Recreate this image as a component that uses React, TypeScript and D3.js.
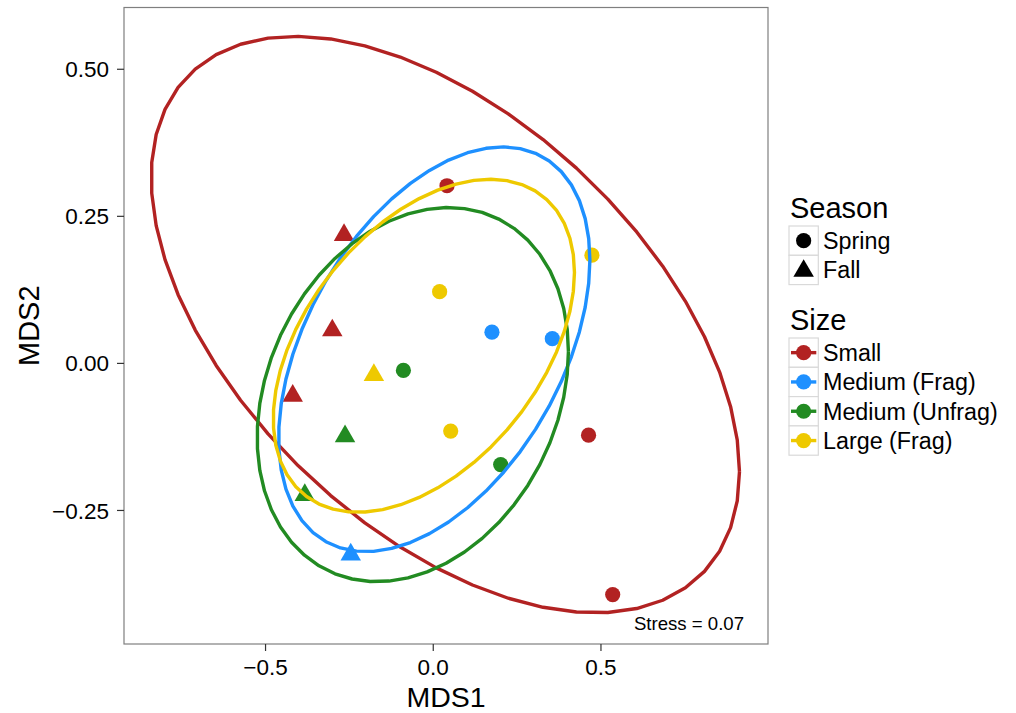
import React from "react";
import * as d3 from "d3";

// ---- data ----
const sizeGroups = ["Small", "Medium (Frag)", "Medium (Unfrag)", "Large (Frag)"];
const sizeColors = ["#B22222", "#1E90FF", "#228B22", "#EEC900"];
const seasons = ["Spring", "Fall"];

// sample points: MDS1, MDS2, size group index, season
const ptMDS1 = [0.041, 0.463, 0.535, 0.175, 0.355, -0.089, 0.201, 0.019, 0.473, 0.052,
  -0.266, -0.301, -0.419, -0.246, -0.263, -0.383, -0.177];
const ptMDS2 = [0.302, -0.122, -0.393, 0.053, 0.042, -0.012, -0.172, 0.122, 0.184, -0.115,
  0.218, 0.056, -0.055, -0.325, -0.124, -0.224, -0.020];
const ptSize = [0, 0, 0, 1, 1, 2, 2, 3, 3, 3, 0, 0, 0, 1, 2, 2, 3];
const ptSeason = ["Spring", "Spring", "Spring", "Spring", "Spring", "Spring", "Spring", "Spring", "Spring", "Spring",
  "Fall", "Fall", "Fall", "Fall", "Fall", "Fall", "Fall"];

// ellipse parameters per size group (centre, half-ranges, correlation)
const ellCx = [0.036, 0.003, -0.061, -0.028];
const ellCy = [0.066, 0.024, -0.053, 0.030];
const ellRx = [0.877, 0.464, 0.464, 0.449];
const ellRy = [0.490, 0.344, 0.318, 0.283];
const ellCorr = [-0.51, 0.44, 0.23, 0.44];

const xTicks = [-0.5, 0.0, 0.5];
const yTicks = [-0.25, 0.0, 0.25, 0.5];
const xDomain = [-0.922, 0.998];
const yDomain = [-0.477, 0.605];
const stressLabel = "Stress = 0.07";

const FONT = "'Liberation Sans', Arial, Helvetica, sans-serif";

export default function App() {
  const W = 1016, H = 713;
  const pl = 124, pr = 768, pt = 7.5, pb = 644;
  const x = d3.scaleLinear().domain(xDomain).range([pl, pr]);
  const y = d3.scaleLinear().domain(yDomain).range([pb, pt]);

  const R = 7.6;
  const triPath = (cx: number, cy: number, r: number) => {
    const xc = 1.347 * r, rr = 1.555 * r, yc = 0.778 * r;
    return `M${cx},${cy - rr}L${cx + xc},${cy + yc}L${cx - xc},${cy + yc}Z`;
  };

  const segs = 51;
  const ellLine = d3.line<[number, number]>().x((d) => x(d[0])).y((d) => y(d[1]));
  const ellipses = sizeGroups.map((_, i) => {
    const phi = Math.acos(ellCorr[i]);
    const pts: [number, number][] = d3.range(segs + 1).map((k) => {
      const t = (k / segs) * 2 * Math.PI;
      return [ellCx[i] + ellRx[i] * Math.cos(t), ellCy[i] + ellRy[i] * Math.cos(t + phi)];
    });
    return ellLine(pts) as string;
  });

  const fmtY = (v: number) => (v < 0 ? "\u2212" : "") + Math.abs(v).toFixed(2);
  const fmtX = (v: number) => (v < 0 ? "\u2212" : "") + Math.abs(v).toFixed(1);

  const legX = 789, keyW = 29.3;
  const seasonTop = 226;
  const sizeTop = 338;

  return (
    <svg width={W} height={H} style={{ position: "absolute", left: 0, top: 0, background: "#fff" }} fontFamily={FONT}>
      <rect x={0} y={0} width={W} height={H} fill="#fff" />
      {/* points */}
      {ptMDS1.map((mx, i) => {
        const cx = x(mx), cy = y(ptMDS2[i]);
        const col = sizeColors[ptSize[i]];
        return ptSeason[i] === "Spring" ? (
          <circle key={"p" + i} cx={cx} cy={cy} r={R} fill={col} />
        ) : (
          <path key={"p" + i} d={triPath(cx, cy, R)} fill={col} />
        );
      })}
      {/* ellipses */}
      {ellipses.map((d, i) => (
        <path key={"e" + i} d={d} fill="none" stroke={sizeColors[i]} strokeWidth={3.4} strokeLinejoin="round" />
      ))}
      {/* panel border */}
      <rect x={pl} y={pt} width={pr - pl} height={pb - pt} fill="none" stroke="#7F7F7F" strokeWidth={1.2} />
      {/* stress */}
      <text x={744} y={630} fontSize={18.6} textAnchor="end" fill="#000">{stressLabel}</text>
      {/* y axis */}
      {yTicks.map((v) => (
        <g key={"y" + v}>
          <line x1={pl - 7} x2={pl} y1={y(v)} y2={y(v)} stroke="#333" strokeWidth={1.2} />
          <text x={pl - 15} y={y(v)} dy="0.36em" fontSize={22.5} textAnchor="end" fill="#000">{fmtY(v)}</text>
        </g>
      ))}
      {/* x axis */}
      {xTicks.map((v) => (
        <g key={"x" + v}>
          <line x1={x(v)} x2={x(v)} y1={pb} y2={pb + 7} stroke="#333" strokeWidth={1.2} />
          <text x={x(v)} y={675} fontSize={22.5} textAnchor="middle" fill="#000">{fmtX(v)}</text>
        </g>
      ))}
      <text x={(pl + pr) / 2} y={707} fontSize={28.5} textAnchor="middle" fill="#000">MDS1</text>
      <text transform={`translate(39,${(pt + pb) / 2}) rotate(-90)`} fontSize={29} textAnchor="middle" fill="#000">MDS2</text>

      {/* legend: Season */}
      <text x={790} y={218} fontSize={29} fill="#000">Season</text>
      {seasons.map((s, i) => {
        const ky = seasonTop + i * keyW;
        const cx = legX + keyW / 2, cy = ky + keyW / 2;
        return (
          <g key={"s" + s}>
            <rect x={legX} y={ky} width={keyW} height={keyW} fill="#fff" stroke="#D9D9D9" strokeWidth={1.2} />
            {s === "Spring" ? <circle cx={cx} cy={cy} r={R} fill="#000" /> : <path d={triPath(cx, cy + 1, R)} fill="#000" />}
            <text x={823} y={cy} dy="0.36em" fontSize={23.3} fill="#000">{s}</text>
          </g>
        );
      })}
      {/* legend: Size */}
      <text x={790} y={330} fontSize={29} fill="#000">Size</text>
      {sizeGroups.map((g, i) => {
        const ky = sizeTop + i * keyW;
        const cx = legX + keyW / 2, cy = ky + keyW / 2;
        return (
          <g key={"g" + g}>
            <rect x={legX} y={ky} width={keyW} height={keyW} fill="#fff" stroke="#D9D9D9" strokeWidth={1.2} />
            <line x1={legX + 2} x2={legX + keyW - 2} y1={cy} y2={cy} stroke={sizeColors[i]} strokeWidth={3.4} />
            <circle cx={cx} cy={cy} r={R} fill={sizeColors[i]} />
            <text x={823} y={cy} dy="0.36em" fontSize={23.3} fill="#000">{g}</text>
          </g>
        );
      })}
    </svg>
  );
}
